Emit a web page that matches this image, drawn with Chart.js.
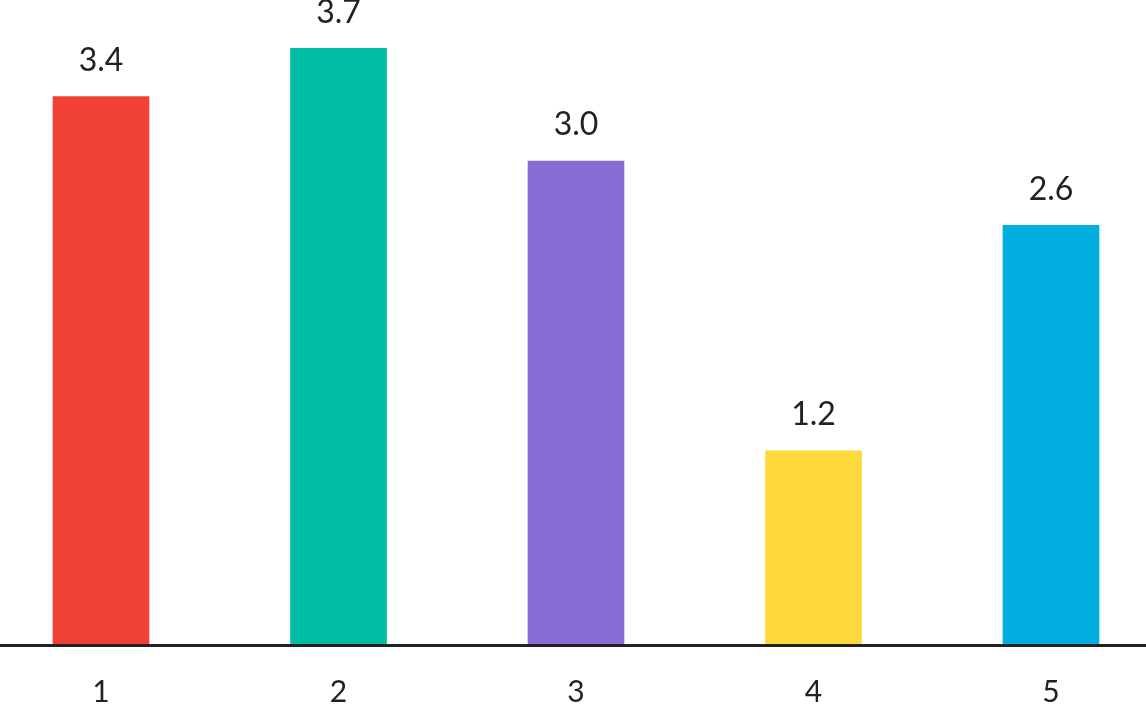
<!DOCTYPE html>
<html>
<head>
<meta charset="utf-8">
<script src="https://cdn.jsdelivr.net/npm/chart.js@4.4.1/dist/chart.umd.min.js"></script>
<style>
  html, body { margin: 0; padding: 0; background: #fff; }
  #wrap { width: 1146px; height: 704px; }
</style>
</head>
<body>
<div id="wrap"><canvas id="bar-chart"></canvas></div>
<script>
const categories = ['1', '2', '3', '4', '5'];
const values = [3.4, 3.7, 3.0, 1.2, 2.6];
const barColors = ['#EF4136', '#00BFA5', '#8A6DD4', '#FFD83B', '#00AEDF'];

// value text above each bar, plus the baseline running the full width
const valueLabels = {
  id: 'valueLabels',
  afterDatasetsDraw(chart) {
    const ctx = chart.ctx;
    const meta = chart.getDatasetMeta(0);
    const y0 = chart.scales.y.getPixelForValue(0);
    ctx.save();
    ctx.strokeStyle = '#222';
    ctx.lineWidth = 3;
    ctx.beginPath();
    ctx.moveTo(0, y0 + 1.5);
    ctx.lineTo(chart.width, y0 + 1.5);
    ctx.stroke();

    ctx.font = '32px Lato';
    ctx.fillStyle = '#222';
    ctx.textAlign = 'center';
    ctx.textBaseline = 'bottom';
    meta.data.forEach((bar, i) => {
      ctx.fillText(values[i].toFixed(1), bar.x, bar.y - 20);
    });
    ctx.restore();
  }
};

var ctx = document.getElementById('bar-chart').getContext('2d');
var chart = new Chart(ctx, {
  type: 'bar',
  data: {
    labels: categories,
    datasets: [{
      data: values,
      backgroundColor: barColors,
      barThickness: 96,
      borderWidth: 0,
      clip: false
    }]
  },
  options: {
    responsive: true,
    maintainAspectRatio: false,
    animation: false,
    layout: { padding: { left: 101, right: 95, top: 0, bottom: 0 } },
    plugins: { legend: { display: false }, tooltip: { enabled: false } },
    scales: {
      x: {
        offset: false,
        grid: { display: false, drawTicks: false },
        border: { display: false },
        ticks: { color: '#222', font: { family: 'Lato', size: 30 }, padding: 30 },
        afterFit(scale) { scale.height = 60; }
      },
      y: {
        display: false,
        min: 0,
        max: 4
      }
    }
  },
  plugins: [valueLabels]
});
</script>
</body>
</html>
